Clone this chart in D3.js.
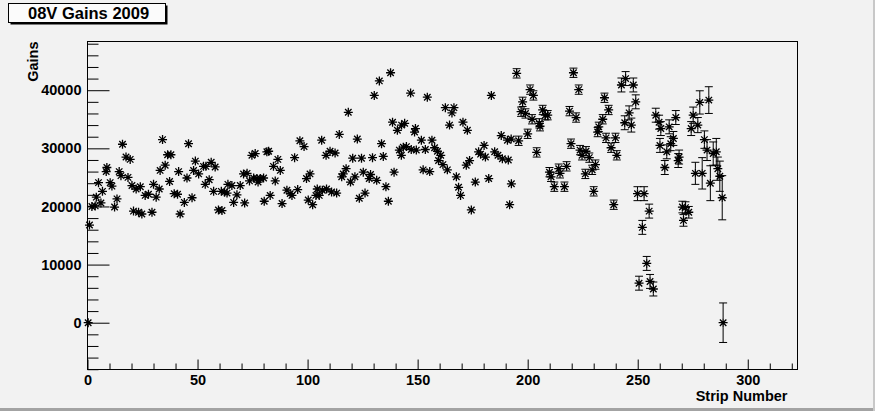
<!DOCTYPE html>
<html>
<head>
<meta charset="utf-8">
<script src="https://cdn.jsdelivr.net/npm/d3@7/dist/d3.min.js"></script>
<style>
  html, body { margin: 0; padding: 0; background: #f2f2f2; }
  svg { display: block; }
  text { font-family: "Liberation Sans", Arial, Helvetica, sans-serif; font-weight: bold; fill: #000; }
</style>
</head>
<body>
<svg id="chart" width="875" height="411"></svg>
<script>
// ---- data ----
const title = "08V Gains 2009";
const xTitle = "Strip Number";
const yTitle = "Gains";
const xTicks = [0, 50, 100, 150, 200, 250, 300];
const yTicks = [0, 10000, 20000, 30000, 40000];

const strips = [
  0.3,0.9,2.0,3.5,4.0,5.0,6.1,6.8,8.5,8.8,
  10.3,11.1,12.3,13.4,14.4,15.2,15.9,17.5,18.4,19.4,
  20.2,20.9,22.1,23.2,24.0,24.7,26.2,27.7,29.3,30.0,
  31.2,32.6,33.0,34.1,35.3,36.4,37.3,37.9,39.4,40.9,
  41.4,42.1,44.0,45.2,45.9,47.5,48.2,49.0,50.5,52.7,
  53.5,53.8,55.3,56.2,57.3,58.0,59.5,60.8,61.1,62.3,
  63.4,63.8,65.6,66.4,67.9,69.4,70.9,71.4,72.5,73.6,
  74.7,75.5,76.2,77.0,77.5,78.5,80.0,80.3,81.5,82.3,
  83.0,84.5,85.3,86.5,87.6,88.4,90.6,92.1,92.9,94.1,
  95.5,96.5,98.4,99.5,100.3,101.1,102.3,103.8,104.4,105.3,
  106.4,106.7,108.4,108.6,110.2,110.9,112.5,113.2,114.4,115.5,
  116.2,117.5,118.5,119.5,120.5,121.5,122.6,123.5,124.5,125.3,
  126.1,128.0,128.6,129.5,130.3,131.4,132.6,133.6,134.4,135.6,
  136.7,137.7,138.6,139.3,140.8,141.7,142.6,142.7,143.5,144.1,
  144.9,146.8,147.1,148.6,149.0,149.4,151.7,152.5,153.5,154.4,
  155.5,156.5,157.7,159.0,159.5,160.5,161.5,162.6,163.5,164.5,
  165.6,166.5,167.6,168.6,169.5,170.6,172.1,172.6,173.6,174.4,
  176.2,177.7,178.6,180.2,180.8,182.3,183.5,185.0,186.5,188.0,
  188.5,190.8,191.2,191.8,192.5,192.6,195.0,195.9,197.0,197.7,
  199.0,200.0,201.1,202.0,202.6,204.1,205.3,205.6,206.8,208.0,
  209.1,209.9,210.6,212.1,214.1,214.7,216.7,217.7,219.0,219.7,
  220.8,222.0,223.2,223.8,224.7,226.2,226.5,228.0,229.3,230.0,
  230.8,231.8,232.3,234.1,234.9,235.6,236.8,237.9,239.1,239.9,
  240.5,242.6,244.1,244.5,246.1,247.1,248.0,249.1,249.9,250.6,
  252.1,252.9,254.1,255.2,255.6,257.1,258.2,259.7,260.1,260.5,
  262.3,263.2,264.3,265.0,266.2,267.3,268.4,268.8,270.3,270.8,
  271.7,273.2,274.3,275.2,276.2,277.3,278.2,279.3,280.3,281.5,
  282.3,283.0,284.3,285.7,286.4,287.3,288.4,288.8
];

const gains = [
  0,16800,20000,20100,21600,24100,20600,22600,26000,26700,
  24100,23500,19900,21300,26000,25300,30700,28500,25000,28100,
  23600,19200,23000,19000,23400,18700,21900,22100,19000,23800,
  21600,23000,26200,31500,27100,28900,24300,28900,22200,22100,
  26000,18700,20700,24900,30800,21500,26200,27800,25600,26900,
  23800,26900,24600,27600,22600,26800,19400,22600,19300,22500,
  22300,23800,23600,20700,22000,23600,25600,20600,25700,24400,
  28800,24900,29100,24800,24200,24800,24900,20900,29400,29500,
  21900,26900,24400,28100,26200,20500,22800,22200,21900,28400,
  22900,31300,30300,24800,21100,25600,20300,21900,23000,21900,
  31400,22800,28800,23000,29500,22500,29200,22300,32400,25100,
  25600,26500,36200,24200,28300,25100,31600,21400,28300,25900,
  22300,24800,25500,28400,39100,24500,41600,30800,28600,23400,
  20900,43000,34500,25900,33100,29700,28800,34000,30200,34300,
  30300,39500,29800,32800,33400,29700,31400,26300,29800,38800,
  26000,31400,30100,29500,27900,28800,27200,37000,26300,34000,
  36100,37000,25100,23300,21900,34500,27100,33100,27900,19400,
  24200,29400,29000,30500,28500,24800,39100,29400,28800,32200,
  28200,31400,28000,20300,31600,23900,42900,31300,36300,38000,
  36000,32500,40100,35000,39100,29300,34300,33800,36600,35700,
  35700,25900,25100,23400,26500,25700,23400,26900,36400,30800,
  43000,35300,40100,29700,28800,25600,29500,28400,26300,22600,
  27200,32800,33700,35000,38700,31800,36600,30100,20300,31800,
  28800,40900,34400,42000,36100,34000,40900,38000,22200,6800,
  16400,22200,10200,19200,7100,5800,35700,34500,30500,33400,
  26700,29400,33700,30800,31700,35300,27900,28500,19900,17600,
  19800,19000,33400,35700,25700,34000,37900,25700,31500,29700,
  38300,24000,29100,29400,26500,25200,21500,0
];

const errors = [
  300,300,300,300,300,300,300,300,300,300,
  300,300,300,300,300,300,300,300,300,300,
  300,300,300,300,300,300,300,300,300,300,
  300,300,300,300,300,300,300,300,300,300,
  300,300,300,300,300,300,300,300,300,300,
  300,300,300,300,300,300,300,300,300,300,
  300,300,300,300,300,300,300,300,300,300,
  300,300,300,300,300,300,300,300,300,300,
  300,300,300,300,300,300,300,300,300,300,
  300,300,300,300,300,300,300,300,300,300,
  300,300,300,300,300,300,300,300,300,300,
  300,300,300,300,300,300,300,300,300,300,
  300,300,300,300,300,300,300,300,300,300,
  300,300,300,300,300,300,300,300,300,300,
  300,300,300,300,300,300,300,300,300,300,
  300,300,300,300,300,300,300,300,300,300,
  300,300,300,300,300,300,300,300,300,300,
  300,300,300,300,300,300,300,300,300,300,
  300,300,300,300,300,300,800,800,800,800,
  800,800,800,800,800,800,800,800,800,800,
  800,800,800,800,800,800,800,800,800,800,
  800,800,800,800,800,800,800,800,800,800,
  800,800,800,800,800,800,800,800,800,800,
  800,1200,1200,1200,1200,1200,1200,1200,1200,1200,
  1200,1200,1200,1200,1200,1200,1200,1200,1200,1200,
  1200,1200,1200,1200,1200,1200,1200,1200,1000,1000,
  1000,1000,1200,1400,1900,1300,2000,2700,1500,1800,
  2300,3000,2000,2300,2000,2600,3800,3400
];

// ---- layout ----
const W = 875, H = 411;
const frame = { left: 87.5, top: 41.5, right: 797.5, bottom: 369.5 };
const xDomain = [0, 322.6];
const yDomain = [-8050, 48380];

const svg = d3.select("#chart");

svg.append("rect").attr("x", 0).attr("y", 0).attr("width", W).attr("height", H).attr("fill", "#f2f2f2");
// canvas border (bottom/right darker)
svg.append("rect").attr("x", 0).attr("y", H - 3).attr("width", W).attr("height", 3).attr("fill", "#a3a3a3");
svg.append("rect").attr("x", W - 2).attr("y", 0).attr("width", 2).attr("height", H).attr("fill", "#c8c8c8");

const x = d3.scaleLinear().domain(xDomain).range([frame.left, frame.right]);
const y = d3.scaleLinear().domain(yDomain).range([frame.bottom, frame.top]);

// frame
svg.append("rect")
  .attr("x", frame.left).attr("y", frame.top)
  .attr("width", frame.right - frame.left).attr("height", frame.bottom - frame.top)
  .attr("fill", "none").attr("stroke", "#000").attr("stroke-width", 1);

const fmt = d3.format("d");
const labelSize = "14.5px";

// y axis: major ticks
const yMinor = d3.range(-8000, 48001, 2000).filter(v => v % 10000 !== 0);
const yAxisMajor = d3.axisLeft(y).tickValues(yTicks).tickFormat(fmt).tickSizeInner(-22).tickSizeOuter(0).tickPadding(6);
const yAxisMinor = d3.axisLeft(y).tickValues(yMinor).tickFormat("").tickSizeInner(-11).tickSizeOuter(0);
const gy = svg.append("g").attr("transform", `translate(${frame.left},0)`);
gy.append("g").call(yAxisMinor);
gy.append("g").call(yAxisMajor);
gy.selectAll("text").style("font-size", labelSize).style("font-family", "'Liberation Sans', Arial, sans-serif").style("font-weight", "bold");
gy.selectAll("path.domain").remove();
gy.selectAll("line").attr("stroke", "#000");

// x axis
const xMinor = d3.range(0, 321, 10).filter(v => v % 50 !== 0);
const xAxisMajor = d3.axisBottom(x).tickValues(xTicks).tickFormat(fmt).tickSizeInner(-10).tickSizeOuter(0).tickPadding(5.5);
const xAxisMinor = d3.axisBottom(x).tickValues(xMinor).tickFormat("").tickSizeInner(-6).tickSizeOuter(0);
const gx = svg.append("g").attr("transform", `translate(0,${frame.bottom})`);
gx.append("g").call(xAxisMinor);
gx.append("g").call(xAxisMajor);
gx.selectAll("text").style("font-size", labelSize).style("font-family", "'Liberation Sans', Arial, sans-serif").style("font-weight", "bold");
gx.selectAll("path.domain").remove();
gx.selectAll("line").attr("stroke", "#000");

// axis titles
svg.append("text")
  .attr("x", frame.right - 10).attr("y", 401)
  .attr("text-anchor", "end")
  .style("font-size", labelSize)
  .text(xTitle);

svg.append("text")
  .attr("transform", `translate(38,${frame.top}) rotate(-90)`)
  .attr("text-anchor", "end")
  .style("font-size", labelSize)
  .text(yTitle);

// title box with shadow
const tb = { x: 8.5, y: 3.5, w: 157, h: 19 };
svg.append("rect").attr("x", tb.x + 2).attr("y", tb.y + 2).attr("width", tb.w).attr("height", tb.h).attr("fill", "#000");
svg.append("rect").attr("x", tb.x).attr("y", tb.y).attr("width", tb.w).attr("height", tb.h)
  .attr("fill", "#fbfbfb").attr("stroke", "#000").attr("stroke-width", 1);
svg.append("text").attr("x", 28).attr("y", 19)
  .style("font-size", "16.5px")
  .text(title);

// data
const pts = strips.map((s, i) => ({ s, g: gains[i], e: errors[i] }));
const R = 4.5; // marker half-size
const gp = svg.append("g");

// error bars (drawn outside the marker only, as ROOT does)
pts.forEach(p => {
  const cx = x(p.s), cy = y(p.g);
  const top = y(p.g + p.e), bot = y(p.g - p.e);
  if (cy - top > R) {
    gp.append("line").attr("x1", cx).attr("x2", cx).attr("y1", top).attr("y2", cy - R)
      .attr("stroke", "#000").attr("stroke-width", 1);
    gp.append("line").attr("x1", cx - 4).attr("x2", cx + 4).attr("y1", top).attr("y2", top)
      .attr("stroke", "#000").attr("stroke-width", 1);
    gp.append("line").attr("x1", cx).attr("x2", cx).attr("y1", cy + R).attr("y2", bot)
      .attr("stroke", "#000").attr("stroke-width", 1);
    gp.append("line").attr("x1", cx - 4).attr("x2", cx + 4).attr("y1", bot).attr("y2", bot)
      .attr("stroke", "#000").attr("stroke-width", 1);
  }
});

// asterisk markers
const star = `M${-R},0H${R}M0,${-R}V${R}M${-R*0.72},${-R*0.72}L${R*0.72},${R*0.72}M${-R*0.72},${R*0.72}L${R*0.72},${-R*0.72}`;
gp.selectAll("path.mk").data(pts).join("path")
  .attr("class", "mk")
  .attr("transform", d => `translate(${x(d.s)},${y(d.g)})`)
  .attr("d", star)
  .attr("fill", "none")
  .attr("stroke", "#000")
  .attr("stroke-width", 1.3);
</script>
</body>
</html>
